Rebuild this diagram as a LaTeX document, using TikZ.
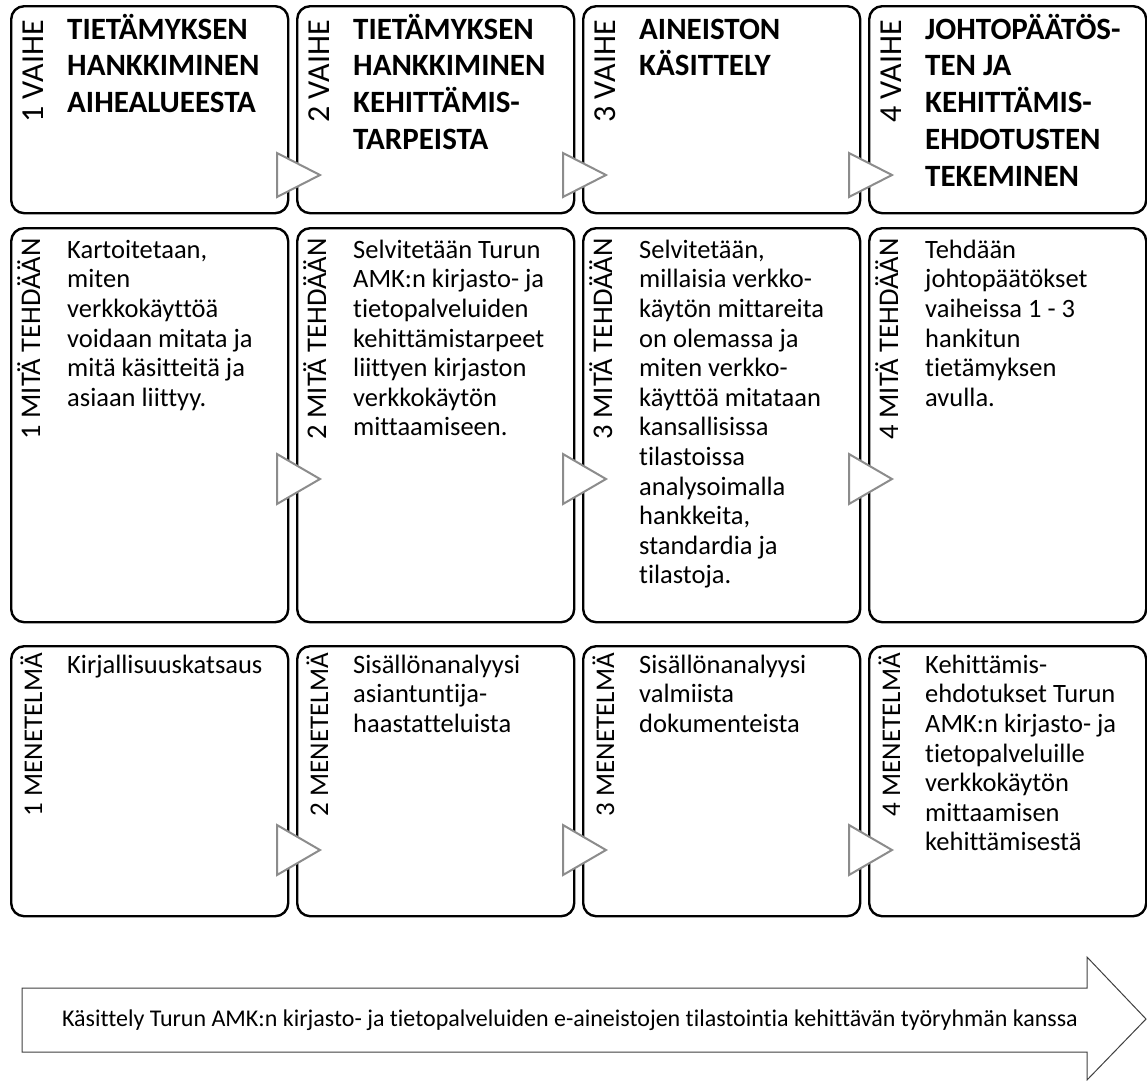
\documentclass[tikz,border=0pt]{standalone}
\usepackage{fontspec}
\setmainfont{Carlito}[Ligatures=NoCommon]
\newcommand\firstln{\rule{0pt}{30pt}}
\begin{document}
\begin{tikzpicture}[x=1pt,y=-1pt,
  box/.style={draw=black, line width=2.4pt, rounded corners=13pt, minimum width=277pt, anchor=north west, inner sep=0pt},
  r1/.style={box, minimum height=207pt},
  r2/.style={box, minimum height=394pt},
  r3/.style={box, minimum height=270pt},
  tri/.style={draw=black!45, fill=white, line width=2pt, line join=miter},
  lblA/.style={rotate=90, anchor=base east, inner sep=0pt, font=\fontsize{32}{38}\selectfont},
  lblB/.style={rotate=90, anchor=base east, inner sep=0pt, font=\fontsize{28.5}{34}\selectfont},
  lblC/.style={rotate=90, anchor=base east, inner sep=0pt, font=\fontsize{27}{32}\selectfont},
  body/.style={anchor=north west, inner sep=0pt, align=left, font=\fontsize{26.5}{29.6}\selectfont},
  ttl/.style={anchor=north west, inner sep=0pt, align=left, font=\bfseries\fontsize{31}{36.7}\selectfont},
  big/.style={draw=black!75, line width=1pt, fill=white},
  bigtxt/.style={inner sep=0pt, font=\fontsize{24}{28}\selectfont}
]
\useasboundingbox (0,0) rectangle (1147,1080);

% ---- boxes
\node[r1] (a1) at (10,5) {};
\node[r1] (a2) at (296,5) {};
\node[r1] (a3) at (582,5) {};
\node[r1] (a4) at (868,5) {};
\node[r2] (b1) at (10,227) {};
\node[r2] (b2) at (296,227) {};
\node[r2] (b3) at (582,227) {};
\node[r2] (b4) at (868,227) {};
\node[r3] (c1) at (10,645) {};
\node[r3] (c2) at (296,645) {};
\node[r3] (c3) at (582,645) {};
\node[r3] (c4) at (868,645) {};

% ---- triangles between boxes
\foreach \x in {277,563,849}{
  \draw[tri] (\x,153) -- (\x+43,175) -- (\x,197) -- cycle;
  \draw[tri] (\x,454) -- (\x+43,479) -- (\x,504) -- cycle;
  \draw[tri] (\x,825) -- (\x+43,850) -- (\x,875) -- cycle;
}

% ---- rotated labels
\node[lblA] (la1) at (43,20) {1 VAIHE};
\node[lblA] (la2) at (329,20) {2 VAIHE};
\node[lblA] (la3) at (615,20) {3 VAIHE};
\node[lblA] (la4) at (901,20) {4 VAIHE};
\node[lblB] (lb1) at (40,238) {1 MITÄ TEHDÄÄN};
\node[lblB] (lb2) at (326,238) {2 MITÄ TEHDÄÄN};
\node[lblB] (lb3) at (612,238) {3 MITÄ TEHDÄÄN};
\node[lblB] (lb4) at (898,238) {4 MITÄ TEHDÄÄN};
\node[lblC] (lc1) at (42,653) {1 MENETELMÄ};
\node[lblC] (lc2) at (328,653) {2 MENETELMÄ};
\node[lblC] (lc3) at (614,653) {3 MENETELMÄ};
\node[lblC] (lc4) at (900,653) {4 MENETELMÄ};

% ---- titles
\node[ttl] (ta1) at (67,9) {\firstln TIETÄMYKSEN\\HANKKIMINEN\\AIHEALUEESTA};
\node[ttl] (ta2) at (353,9) {\firstln TIETÄMYKSEN\\HANKKIMINEN\\KEHITTÄMIS-\\TARPEISTA};
\node[ttl] (ta3) at (639,9) {\firstln AINEISTON\\KÄSITTELY};
\node[ttl] (ta4) at (925,9) {\firstln JOHTOPÄÄTÖS-\\TEN JA\\KEHITTÄMIS-\\EHDOTUSTEN\\TEKEMINEN};

% ---- row 2 texts
\node[body] (tb1) at (67,228) {\firstln Kartoitetaan,\\miten\\verkkokäyttöä\\voidaan mitata ja\\mitä käsitteitä ja\\asiaan liittyy.};
\node[body] (tb2) at (353,228) {\firstln Selvitetään Turun\\AMK:n kirjasto- ja\\tietopalveluiden\\kehittämistarpeet\\liittyen kirjaston\\verkkokäytön\\mittaamiseen.};
\node[body] (tb3) at (639,228) {\firstln Selvitetään,\\millaisia verkko-\\käytön mittareita\\on olemassa ja\\miten verkko-\\käyttöä mitataan\\kansallisissa\\tilastoissa\\analysoimalla\\hankkeita,\\standardia ja\\tilastoja.};
\node[body] (tb4) at (925,228) {\firstln Tehdään\\johtopäätökset\\vaiheissa 1 - 3\\hankitun\\tietämyksen\\avulla.};

% ---- row 3 texts
\node[body] (tc1) at (67,643) {\firstln Kirjallisuuskatsaus};
\node[body] (tc2) at (353,643) {\firstln Sisällönanalyysi\\asiantuntija-\\haastatteluista};
\node[body] (tc3) at (639,643) {\firstln Sisällönanalyysi\\valmiista\\dokumenteista};
\node[body] (tc4) at (925,643) {\firstln Kehittämis-\\ehdotukset Turun\\AMK:n kirjasto- ja\\tietopalveluille\\verkkokäytön\\mittaamisen\\kehittämisestä};

% ---- bottom arrow
\draw[big] (22,988) -- (1087,988) -- (1087,957) -- (1146,1019) -- (1087,1080) -- (1087,1052) -- (22,1052) -- cycle;
\node[bigtxt] (bt) at (570,1020) {Käsittely Turun AMK:n kirjasto- ja tietopalveluiden e-aineistojen tilastointia kehittävän työryhmän kanssa};
\end{tikzpicture}
\end{document}
